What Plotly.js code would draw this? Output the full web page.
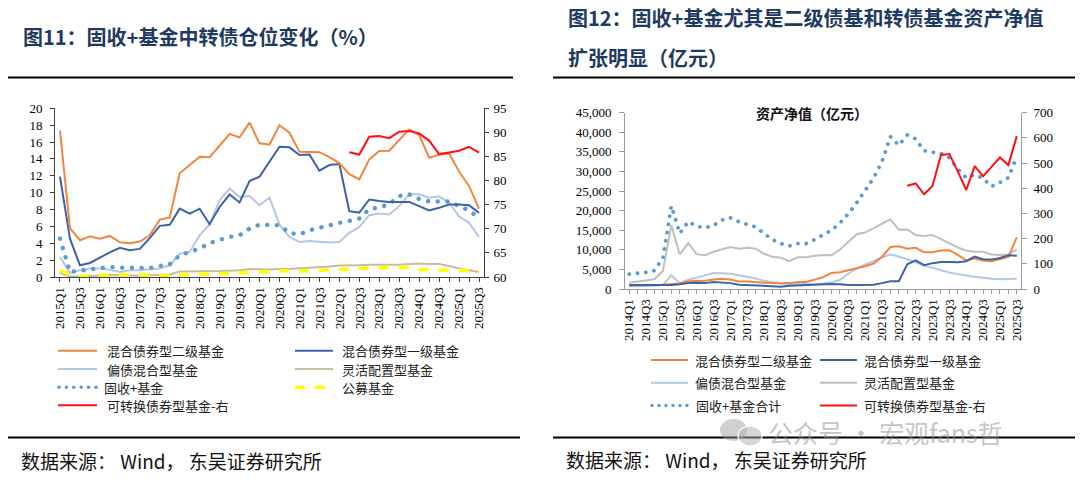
<!DOCTYPE html>
<html><head><meta charset="utf-8">
<script src="https://cdn.plot.ly/plotly-3.0.1.min.js"></script>
<style>
body{margin:0;background:#fff;}
#chart{width:1080px;height:478px;}
.tracedotsL .js-line, .tracedotsR .js-line {stroke-linecap: round;}
</style></head><body><div id="chart"></div>
<script>
// ---------- Figure 11 data (%) ----------
const q1 = ['2015Q1','2015Q2','2015Q3','2015Q4','2016Q1','2016Q2','2016Q3','2016Q4','2017Q1','2017Q2','2017Q3','2017Q4','2018Q1','2018Q2','2018Q3','2018Q4','2019Q1','2019Q2','2019Q3','2019Q4','2020Q1','2020Q2','2020Q3','2020Q4','2021Q1','2021Q2','2021Q3','2021Q4','2022Q1','2022Q2','2022Q3','2022Q4','2023Q1','2023Q2','2023Q3','2023Q4','2024Q1','2024Q2','2024Q3','2024Q4','2025Q1','2025Q2','2025Q3'];
const l_second = [17.35,5.8,4.36,4.83,4.55,4.87,4.12,4.0,4.2,4.95,6.8,7.05,12.3,13.3,14.26,14.2,15.6,16.95,16.55,18.3,15.85,15.7,18.0,17.1,14.85,14.8,14.8,14.2,13.5,12.2,11.56,13.94,14.93,14.97,16.24,17.5,16.83,14.14,14.5,14.65,12.5,10.8,8.1];
const l_first = [11.9,4.55,1.39,1.66,2.3,2.93,3.45,3.17,3.33,4.6,6.06,6.2,8.1,7.5,8.1,6.26,8.3,9.78,8.83,11.37,11.9,13.7,15.44,15.37,14.46,14.53,12.6,13.27,13.39,7.8,7.64,9.19,9.0,8.9,8.9,8.9,8.4,7.9,8.2,8.6,8.6,8.5,7.6];
const l_hybrid = [2.38,0.5,0.8,1.0,1.0,0.87,0.6,0.8,0.8,0.87,1.0,1.39,2.77,2.97,4.95,6.26,9.1,10.5,9.5,9.6,8.5,9.4,6.2,4.75,4.16,4.28,4.16,4.08,4.16,5.23,5.94,7.33,7.52,7.41,8.4,9.8,9.8,9.39,9.58,8.8,7.2,6.42,4.75];
const l_flex = [0.5,0.05,0.05,0.1,0.2,0.25,0.2,0.15,0.15,0.2,0.25,0.3,0.65,0.65,0.65,0.65,0.7,0.75,0.8,0.95,0.9,0.9,0.95,0.95,1.05,1.1,1.2,1.25,1.35,1.35,1.4,1.45,1.45,1.45,1.45,1.55,1.6,1.55,1.55,1.3,1.0,0.8,0.6];
const l_fixedPlus = [4.55,0.6,0.75,0.87,1.07,1.19,1.11,1.07,1.11,1.07,1.3,1.5,2.57,2.97,3.37,4.04,4.44,4.75,4.95,5.74,6.2,6.14,6.14,5.23,5.03,5.54,5.86,6.14,6.42,6.65,6.93,8.04,8.24,8.63,9.6,9.8,9.25,8.95,8.95,8.95,8.4,7.9,7.0];
const l_public = [0.8,0.3,0.1,0.15,0.3,0.3,0.3,0.25,0.3,0.25,0.2,0.2,0.3,0.3,0.3,0.35,0.4,0.45,0.5,0.55,0.6,0.7,0.8,0.75,0.7,0.75,0.85,0.95,1.0,1.0,1.05,1.05,1.1,1.1,1.15,1.15,0.9,0.85,0.85,0.85,0.8,0.75,0.8];
const l_cb = [null,null,null,null,null,null,null,null,null,null,null,null,null,null,null,null,null,null,null,null,null,null,null,null,null,null,null,null,null,85.9,85.4,89.1,89.25,88.8,90.15,90.3,89.8,88.3,85.5,85.85,86.2,87.0,85.8];
const names1 = ['混合债券型二级基金','混合债券型一级基金','偏债混合型基金','灵活配置型基金','固收+基金','公募基金','可转换债券型基金-右'];

// ---------- Figure 12 data (亿元) ----------
const q2 = ['2014Q1','2014Q2','2014Q3','2014Q4','2015Q1','2015Q2','2015Q3','2015Q4','2016Q1','2016Q2','2016Q3','2016Q4','2017Q1','2017Q2','2017Q3','2017Q4','2018Q1','2018Q2','2018Q3','2018Q4','2019Q1','2019Q2','2019Q3','2019Q4','2020Q1','2020Q2','2020Q3','2020Q4','2021Q1','2021Q2','2021Q3','2021Q4','2022Q1','2022Q2','2022Q3','2022Q4','2023Q1','2023Q2','2023Q3','2023Q4','2024Q1','2024Q2','2024Q3','2024Q4','2025Q1','2025Q2','2025Q3'];
const r_second = [900,900,900,1000,1100,1300,1400,2000,2100,2100,2400,2600,2400,1900,1900,1700,1600,1500,1400,1500,1800,1800,2400,3000,4100,4300,4800,5300,5800,6500,8200,10700,10900,10300,10500,9400,9400,9800,9900,8700,7300,7800,7300,7100,7600,8200,13200];
const r_first = [1000,1000,900,900,900,1000,1200,1500,1600,1500,1800,1700,1500,1100,1000,900,700,600,600,800,900,1000,1100,1200,1300,1200,1000,1000,1000,1100,1500,2000,2000,6300,7300,6100,6600,6900,6900,6800,7100,8300,7600,7500,7900,8600,8500];
const r_hybrid = [700,700,700,800,1000,3500,1500,2400,2900,3500,4100,4000,3900,3500,3100,2700,2100,1700,1500,1300,1300,1200,1200,1400,1700,2300,3900,5200,6300,7100,8100,8800,8300,7600,6800,6000,5400,4800,4200,3800,3400,3100,2900,2600,2500,2500,2600];
const r_flex = [1600,1900,2100,2500,4600,16300,8800,11700,8900,8600,9500,10200,10700,10300,10500,10300,9000,8200,8000,7100,8100,8100,8500,8700,8600,10000,12100,14000,14400,15500,16600,17800,15100,15200,13800,13500,13800,12700,11600,10600,9800,9500,9500,8800,8700,8800,10100];
const r_total = [3800,4000,4250,4700,8000,21200,14200,17200,16000,15600,16200,17600,18200,17200,16500,15800,14200,12600,11600,11000,11600,11600,12600,13900,15000,16800,19200,22000,25000,28300,32500,38900,36700,39300,38300,35300,34900,34600,33500,30600,28400,29200,28200,26200,27200,28400,33800];
const r_cb = [null,null,null,null,null,null,null,null,null,null,null,null,null,null,null,null,null,null,null,null,null,null,null,null,null,null,null,null,null,null,null,null,null,410,419,376,409,532,536,466,393,488,448,485,522,492,607];
const names2 = ['混合债券型二级基金','混合债券型一级基金','偏债混合型基金','灵活配置型基金','固收+基金合计','可转换债券型基金-右'];

// ---------- helpers ----------
const W = 1080, H = 478;
const px = x => x / W;
const py = y => 1 - y / H;
const C = {orange:'#F0873F', dblue:'#3D62A8', lblue:'#B4C7E7', khaki:'#C9BD9F', dots:'#5B9BD5', yellow:'#FFFF00', red:'#FF1010', gray:'#BFBFBF'};
const serif = 'Liberation Serif, Times New Roman, serif';
const cjk = 'Noto Sans CJK SC, sans-serif';

function altTicks(arr){ return arr.map((v,i)=> i%2===0 ? v : ''); }

const traces = [
  {x:q1, y:l_flex, xaxis:'x', yaxis:'y', mode:'lines', line:{color:C.khaki, width:2}},
  {x:q1, y:l_public, xaxis:'x', yaxis:'y', mode:'lines', line:{color:C.yellow, width:3.5, dash:'10px,10px'}},
  {x:q1, y:l_hybrid, xaxis:'x', yaxis:'y', mode:'lines', line:{color:C.lblue, width:2}},
  {x:q1, y:l_fixedPlus, xaxis:'x', yaxis:'y', mode:'lines', uid:'dotsL', line:{color:C.dots, width:4.4, dash:'0.1px,9.6px'}},
  {x:q1, y:l_first, xaxis:'x', yaxis:'y', mode:'lines', line:{color:C.dblue, width:2}},
  {x:q1, y:l_second, xaxis:'x', yaxis:'y', mode:'lines', line:{color:C.orange, width:2}},
  {x:q1, y:l_cb, xaxis:'x', yaxis:'y2', mode:'lines', line:{color:C.red, width:2}},

  {x:q2, y:r_flex, xaxis:'x2', yaxis:'y3', mode:'lines', line:{color:C.gray, width:2}},
  {x:q2, y:r_hybrid, xaxis:'x2', yaxis:'y3', mode:'lines', line:{color:C.lblue, width:2}},
  {x:q2, y:r_second, xaxis:'x2', yaxis:'y3', mode:'lines', line:{color:C.orange, width:2}},
  {x:q2, y:r_first, xaxis:'x2', yaxis:'y3', mode:'lines', line:{color:C.dblue, width:2}},
  {x:q2, y:r_total, xaxis:'x2', yaxis:'y3', mode:'lines', uid:'dotsR', line:{color:C.dots, width:3.8, dash:'0.1px,8.2px'}},
  {x:q2, y:r_cb, xaxis:'x2', yaxis:'y4', mode:'lines', line:{color:C.red, width:2}}
];
traces.forEach(t => { t.showlegend = false; t.hoverinfo = 'skip'; });

const axL = '#404040', axR = '#9A9A9A';
const tickFont = {family: serif, size: 13, color: '#000'};

const layout = {
  width: W, height: H,
  margin: {l:0, r:0, t:0, b:0},
  paper_bgcolor: '#fff', plot_bgcolor: 'rgba(0,0,0,0)',
  showlegend: false,
  xaxis: {domain:[px(55), px(484)], type:'category', range:[-0.5, 42.5], anchor:'y',
    tickmode:'array', tickvals:q1, ticktext:altTicks(q1), tickangle:-90,
    ticks:'outside', ticklen:4, tickcolor:axL, showline:true, linecolor:axL, linewidth:1,
    showgrid:false, zeroline:false, tickfont:tickFont, fixedrange:true},
  yaxis: {domain:[py(277), py(108.3)], range:[0,20], dtick:2, tick0:0, anchor:'x',
    ticks:'outside', ticklen:4, tickcolor:axL, showline:true, linecolor:axL, linewidth:1,
    showgrid:false, zeroline:false, tickfont:tickFont, ticklabelstandoff:5},
  yaxis2: {range:[60,95], dtick:5, tick0:60, overlaying:'y', side:'right', anchor:'x',
    ticks:'outside', ticklen:4, tickcolor:axL, showline:true, linecolor:axL, linewidth:1,
    showgrid:false, zeroline:false, tickfont:tickFont, ticklabelstandoff:2},
  xaxis2: {domain:[px(625), px(1021)], type:'category', range:[-0.5, 46.5], anchor:'y3',
    tickmode:'array', tickvals:q2, ticktext:altTicks(q2), tickangle:-90,
    ticks:'outside', ticklen:4, tickcolor:axR, showline:true, linecolor:axR, linewidth:1,
    showgrid:false, zeroline:false, tickfont:tickFont},
  yaxis3: {domain:[py(289), py(112.7)], range:[0,45000], dtick:5000, tick0:0, anchor:'x2',
    tickformat:',d', ticks:'outside', ticklen:5, tickcolor:axR, showline:true, linecolor:axR, linewidth:1,
    showgrid:false, zeroline:false, tickfont:tickFont, ticklabelstandoff:5},
  yaxis4: {range:[0,700], dtick:100, tick0:0, overlaying:'y3', side:'right', anchor:'x2',
    ticks:'outside', ticklen:5, tickcolor:axR, showline:true, linecolor:axR, linewidth:1,
    showgrid:false, zeroline:false, tickfont:tickFont, ticklabelstandoff:4},
  shapes: [], annotations: []
};

const S = layout.shapes, A = layout.annotations;
function hline(x0,x1,y,color,width,dash){ S.push({type:'line', xref:'paper', yref:'paper', x0:px(x0), x1:px(x1), y0:py(y), y1:py(y), line:{color:color, width:width, dash:dash||'solid'}}); }
function txt(x,y,text,size,color,opts){ A.push(Object.assign({xref:'paper', yref:'paper', x:px(x), y:py(y), text:text, showarrow:false, xanchor:'left', yanchor:'middle', font:{family:cjk, size:size, color:color}}, opts||{})); }
function dotsSample(x0,x1,y,color,n,d){ for(let i=0;i<n;i++){ const cx = x0 + (x1-x0)*i/(n-1); S.push({type:'circle', xref:'paper', yref:'paper', x0:px(cx-d/2), x1:px(cx+d/2), y0:py(y+d/2), y1:py(y-d/2), fillcolor:color, line:{width:0}}); } }

// rules
hline(8, 513, 77.5, '#000', 2);
hline(553, 1075, 77.5, '#000', 2);
hline(8, 520, 437.5, '#000', 2);
hline(553, 1075, 437.5, '#000', 2);

// titles
const navy = '#1F3A62';
A.push({xref:'paper', yref:'paper', x:px(21), y:py(37), text:'图11：固收+基金中转债仓位变化（%）', showarrow:false, xanchor:'left', yanchor:'middle', font:{family:cjk, size:20, color:navy, weight:700}});
A.push({xref:'paper', yref:'paper', x:px(566), y:py(17.5), text:'图12：固收+基金尤其是二级债基和转债基金资产净值', showarrow:false, xanchor:'left', yanchor:'middle', font:{family:cjk, size:20, color:navy, weight:700}});
A.push({xref:'paper', yref:'paper', x:px(566), y:py(57), text:'扩张明显（亿元）', showarrow:false, xanchor:'left', yanchor:'middle', font:{family:cjk, size:20, color:navy, weight:700}});
A.push({xref:'paper', yref:'paper', x:px(812), y:py(113), text:'资产净值（亿元）', showarrow:false, xanchor:'center', yanchor:'middle', font:{family:cjk, size:14, color:'#111', weight:700}});

// source lines
txt(19, 460, '数据来源： Wind， 东吴证券研究所', 19, '#111');
txt(564, 459, '数据来源： Wind， 东吴证券研究所', 19, '#111');

// left legend
const LF = 13, LC = '#222';
hline(58, 97, 350.7, C.orange, 2); txt(105, 350.7, names1[0], LF, LC);
hline(295, 333, 350.7, C.dblue, 2); txt(340, 350.7, names1[1], LF, LC);
hline(58, 97, 369, C.lblue, 2); txt(105, 369, names1[2], LF, LC);
hline(295, 333, 369, C.khaki, 2); txt(340, 369, names1[3], LF, LC);
dotsSample(59, 96, 387.3, C.dots, 6, 3.6); txt(102, 387.3, names1[4], LF, LC);
S.push({type:'rect', xref:'paper', yref:'paper', x0:px(295), x1:px(305), y0:py(389), y1:py(385.6), fillcolor:C.yellow, line:{width:0}});
S.push({type:'rect', xref:'paper', yref:'paper', x0:px(315), x1:px(325), y0:py(389), y1:py(385.6), fillcolor:C.yellow, line:{width:0}});
txt(340, 387.3, names1[5], LF, LC);
hline(58, 97, 405.3, C.red, 2); txt(105, 405.3, names1[6], LF, LC);

// right legend
hline(651, 688, 360, C.orange, 2); txt(693, 360, names2[0], LF, LC);
hline(820, 857, 360, C.dblue, 2); txt(862, 360, names2[1], LF, LC);
hline(651, 688, 382.7, C.lblue, 2); txt(693, 382.7, names2[2], LF, LC);
hline(820, 857, 382.7, C.gray, 2); txt(862, 382.7, names2[3], LF, LC);
dotsSample(652, 687, 405.5, C.dots, 6, 3.4); txt(694, 405.5, names2[4], LF, LC);
hline(820, 857, 405.5, C.red, 2); txt(862, 405.5, names2[5], LF, LC);

// watermark
S.push({type:'circle', xref:'paper', yref:'paper', x0:px(720), x1:px(747), y0:py(441), y1:py(419), fillcolor:'rgba(150,150,150,0.45)', line:{width:0}});
S.push({type:'circle', xref:'paper', yref:'paper', x0:px(738), x1:px(762), y0:py(446), y1:py(426), fillcolor:'rgba(175,175,175,0.5)', line:{color:'rgba(255,255,255,0.8)', width:1.5}});
txt(766, 431.5, '公众号 · 宏观fans哲', 25, 'rgba(140,140,140,0.5)');

Plotly.newPlot('chart', traces, layout, {staticPlot:true, displayModeBar:false});
</script></body></html>
